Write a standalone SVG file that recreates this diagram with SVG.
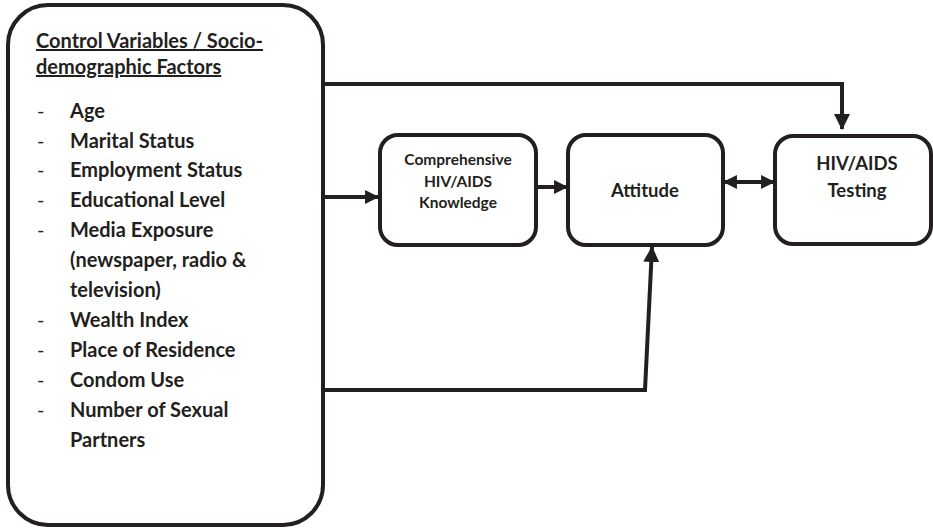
<svg xmlns="http://www.w3.org/2000/svg" width="933" height="530" viewBox="0 0 933 530">
<style>
.box{fill:#fff;stroke:#231f20;stroke-width:4}
.ln{fill:none;stroke:#231f20;stroke-width:4;stroke-linejoin:miter}
text{font-family:Lato,"Open Sans","Liberation Sans",sans-serif;font-weight:bold;fill:#231f20}
.t{font-size:20px}
.d{font-size:20px;font-weight:normal}
.h{font-size:20px;text-decoration:underline}
.s{font-size:15.5px;text-anchor:middle}
.m{font-size:18.5px;text-anchor:middle}
</style>
<defs>
<marker id="ah" markerUnits="userSpaceOnUse" markerWidth="14" markerHeight="14" refX="12" refY="6.5" orient="auto-start-reverse" viewBox="0 0 13 13">
<path d="M0,0 L13,6.5 L0,13 Z" fill="#231f20"/>
</marker>
<marker id="big" markerUnits="userSpaceOnUse" markerWidth="16" markerHeight="17" refX="15" refY="8" orient="auto" viewBox="0 0 16 16">
<path d="M0,0 L16,8 L0,16 Z" fill="#231f20"/>
</marker>
</defs>
<g id="controls">
<rect class="box" x="8" y="5" width="315" height="520" rx="40" ry="40"/>
<text class="h" x="36" y="48">Control Variables / Socio-</text>
<text class="h" x="36" y="74">demographic Factors</text>
<text class="d" x="37" y="118">-</text><text class="t" x="70" y="118">Age</text>
<text class="d" x="37" y="148">-</text><text class="t" x="70" y="148">Marital Status</text>
<text class="d" x="37" y="177">-</text><text class="t" x="70" y="177">Employment Status</text>
<text class="d" x="37" y="207">-</text><text class="t" x="70" y="207">Educational Level</text>
<text class="d" x="37" y="237">-</text><text class="t" x="70" y="237">Media Exposure</text>
<text class="t" x="70" y="267">(newspaper, radio &amp;</text>
<text class="t" x="70" y="297">television)</text>
<text class="d" x="37" y="327">-</text><text class="t" x="70" y="327">Wealth Index</text>
<text class="d" x="37" y="357">-</text><text class="t" x="70" y="357">Place of Residence</text>
<text class="d" x="37" y="387">-</text><text class="t" x="70" y="387">Condom Use</text>
<text class="d" x="37" y="417">-</text><text class="t" x="70" y="417">Number of Sexual</text>
<text class="t" x="70" y="447">Partners</text>
</g>
<g id="knowledge">
<rect class="box" x="380" y="135" width="156" height="110" rx="18" ry="18"/>
<text class="s" x="458" y="165">Comprehensive</text>
<text class="s" x="458" y="187">HIV/AIDS</text>
<text class="s" x="458" y="208">Knowledge</text>
</g>
<g id="attitude">
<rect class="box" x="568" y="135" width="155" height="110" rx="18" ry="18"/>
<text class="m" x="645" y="197">Attitude</text>
</g>
<g id="testing">
<rect class="box" x="775" y="136" width="156" height="108" rx="18" ry="18"/>
<text class="m" x="857" y="170">HIV/AIDS</text>
<text class="m" x="857" y="197">Testing</text>
</g>
<g id="connectors">
<polyline class="ln" points="323,84 842,84 842,129" marker-end="url(#big)"/>
<line class="ln" x1="323" y1="197" x2="378" y2="197" marker-end="url(#ah)"/>
<line class="ln" x1="536" y1="187" x2="567" y2="187" marker-end="url(#ah)"/>
<line class="ln" x1="724" y1="182" x2="774" y2="182" marker-start="url(#ah)" marker-end="url(#ah)"/>
<polyline class="ln" points="323,390 645,390 652,247" marker-end="url(#big)"/>
</g>
</svg>
